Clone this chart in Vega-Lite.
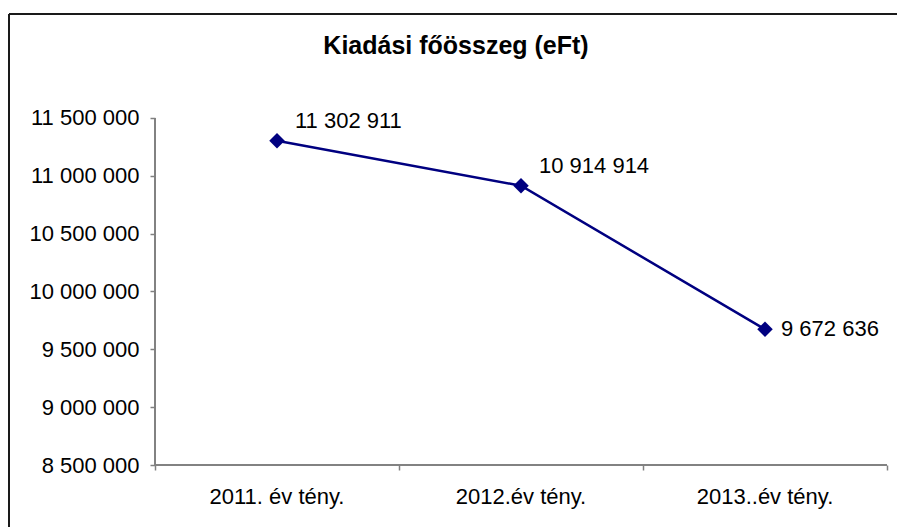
{
  "$schema": "https://vega.github.io/schema/vega-lite/v6.json",
  "width": 888,
  "height": 513,
  "autosize": "none",
  "padding": {"left": 9, "top": 14, "right": 0, "bottom": 0},
  "background": "white",
  "config": {
    "view": {"stroke": null},
    "font": "Liberation Sans",
    "locale": {"number": {"decimal": ",", "thousands": " ", "grouping": [3], "currency": ["", ""]}}
  },
  "title": {
    "text": "Kiadási főösszeg (eFt)",
    "font": "Liberation Sans",
    "fontSize": 25,
    "fontWeight": "bold",
    "color": "black",
    "anchor": "middle",
    "frame": "group",
    "baseline": "alphabetic",
    "offset": -66,
    "dx": 3
  },
  "data": {
    "values": [
      {"i": 0, "cat": "2011. év tény.", "value": 11302911},
      {"i": 1, "cat": "2012.év tény.", "value": 10914914},
      {"i": 2, "cat": "2013..év tény.", "value": 9672636}
    ]
  },
  "encoding": {
    "x": {
      "field": "i",
      "type": "quantitative",
      "scale": {"domain": [-1.0983607, 2.5409836], "nice": false, "zero": false},
      "axis": {
        "orient": "bottom",
        "offset": -62,
        "values": [-0.5, 0.5, 1.5, 2.5],
        "labels": false,
        "domain": false,
        "grid": false,
        "ticks": true,
        "tickSize": 5,
        "tickWidth": 1.5,
        "tickColor": "#808080",
        "title": null
      }
    },
    "y": {
      "field": "value",
      "type": "quantitative",
      "scale": {"domain": [7963977, 12399135], "nice": false, "zero": false},
      "axis": {
        "orient": "left",
        "offset": -146,
        "values": [8500000, 9000000, 9500000, 10000000, 10500000, 11000000, 11500000],
        "format": ",d",
        "domain": false,
        "grid": false,
        "ticks": true,
        "tickSize": 5,
        "tickWidth": 1.5,
        "tickColor": "#808080",
        "labelFont": "Liberation Sans",
        "labelFontSize": 22,
        "labelColor": "black",
        "labelPadding": 11,
        "title": null
      }
    }
  },
  "layer": [
    {
      "mark": {"type": "rule", "color": "#1a1a1a", "strokeWidth": 2},
      "encoding": {"x": null, "y": {"datum": 12399135}}
    },
    {
      "mark": {"type": "rule", "color": "#1a1a1a", "strokeWidth": 2},
      "encoding": {"y": null, "x": {"datum": -1.0983607}}
    },
    {
      "mark": {"type": "rule", "color": "#808080", "strokeWidth": 1.5},
      "encoding": {"x": {"datum": -0.5}, "x2": {"datum": 2.5}, "y": {"datum": 8500000}}
    },
    {
      "mark": {"type": "rule", "color": "#808080", "strokeWidth": 1.5},
      "encoding": {"x": {"datum": -0.5}, "y": {"datum": 8500000}, "y2": {"datum": 11500000}}
    },
    {
      "mark": {"type": "line", "color": "#000080", "strokeWidth": 2.5}
    },
    {
      "mark": {"type": "point", "shape": "diamond", "filled": true, "opacity": 1, "size": 240, "color": "#000080"}
    },
    {
      "transform": [{"filter": "datum.i < 2"}],
      "mark": {"type": "text", "align": "left", "baseline": "middle", "dx": 18, "dy": -20, "fontSize": 22, "font": "Liberation Sans", "color": "black"},
      "encoding": {"text": {"field": "value", "type": "quantitative", "format": ",d"}}
    },
    {
      "transform": [{"filter": "datum.i == 2"}],
      "mark": {"type": "text", "align": "left", "baseline": "middle", "dx": 16, "dy": 0, "fontSize": 22, "font": "Liberation Sans", "color": "black"},
      "encoding": {"text": {"field": "value", "type": "quantitative", "format": ",d"}}
    },
    {
      "mark": {"type": "text", "align": "center", "baseline": "alphabetic", "dy": 39, "fontSize": 22, "font": "Liberation Sans", "color": "black"},
      "encoding": {"y": {"datum": 8500000}, "text": {"field": "cat", "type": "nominal"}}
    }
  ]
}
